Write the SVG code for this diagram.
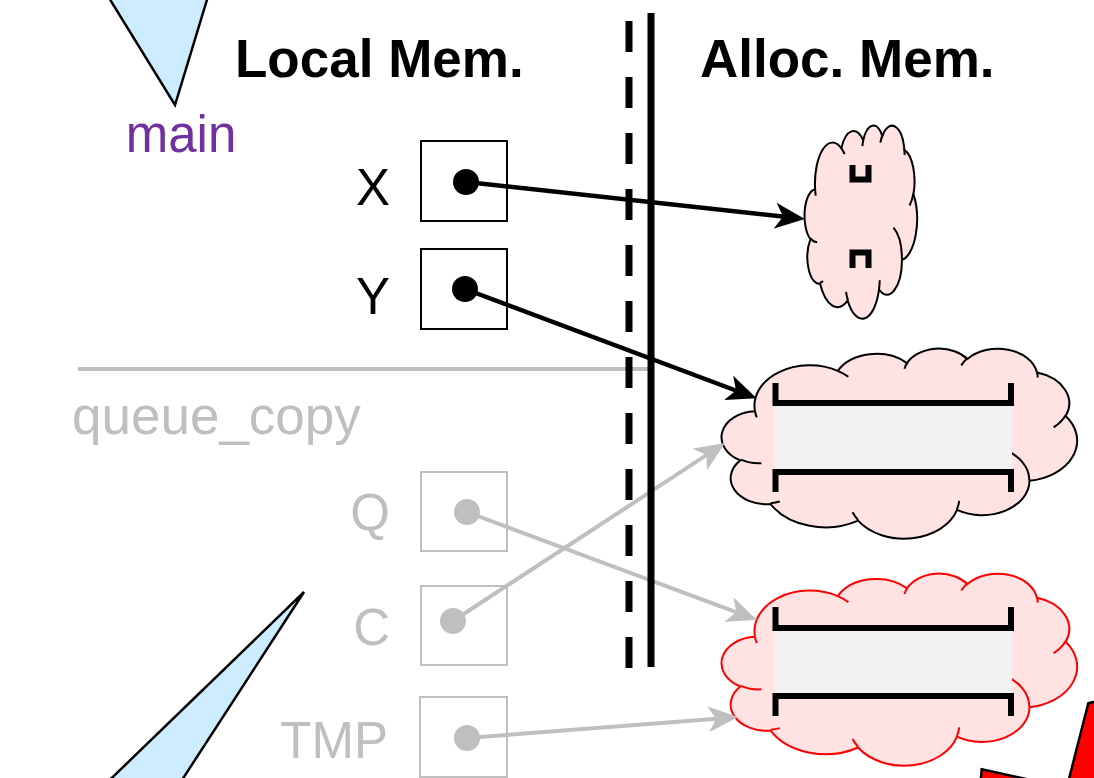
<svg xmlns="http://www.w3.org/2000/svg" width="1094" height="778" viewBox="0 0 1094 778">
<style>
.hdr{font-family:"Liberation Sans",Arial,sans-serif;font-weight:bold;font-size:53px;fill:#000}
.lbl{font-family:"Liberation Sans",Arial,sans-serif;font-size:51px;text-anchor:end}
.tb{fill:#000}
.tg{fill:#bfbfbf}
.boxb{fill:#fff;stroke:#000;stroke-width:2}
.boxg{fill:#fff;stroke:#bfbfbf;stroke-width:2}
.tri{fill:#cdecff;stroke:#000;stroke-width:2.5;stroke-linejoin:miter}
.ns{vector-effect:non-scaling-stroke}
.bracket{fill:none;stroke:#000;stroke-width:6;stroke-linejoin:miter;stroke-linecap:butt}
.qfill{fill:#f2f2f2}
.cb{stroke:#000;stroke-width:4.5;fill:none}
.cg{stroke:#bfbfbf;stroke-width:4;fill:none}
.redshape{fill:#ff0000;stroke:#000;stroke-width:2.5}
</style>
<defs>
<path id="cloudOuter" class="ns" d="M3900 14370 A6753 9190 0 0 1 14005 5202 A5333 7267 0 0 1 22456 3432 A4365 5945 0 0 1 29833 2480 A4857 6595 0 0 1 38319 5575 A5333 7273 0 0 1 41819 15459 A6775 9220 0 0 1 37405 30202 A5785 7867 0 0 1 28556 36812 A6752 9215 0 0 1 16480 39261 A7720 10543 0 0 1 5804 35468 A4360 5918 0 0 1 2112 25546 A4345 5945 0 0 1 3900 14370 Z"/>
<path id="cloudInner" class="ns" fill="none" d="M4693 26177 A4345 5945 0 0 1 2160 25380 M6928 34899 A4360 5918 0 0 1 5819 35281 M16478 39090 A6752 9215 0 0 1 15811 37350 M28827 34751 A6752 9215 0 0 1 28560 36660 M34129 22954 A5785 7867 0 0 1 37380 30089 M41798 15354 A5333 7273 0 0 1 40351 18030 M38324 5426 A4857 6595 0 0 1 38400 6689 M29078 3952 A4857 6595 0 0 1 29819 2341 M22141 4720 A4365 5945 0 0 1 22500 3330 M14000 5192 A6753 9190 0 0 1 15300 6540 M4127 15789 A6753 9190 0 0 1 3900 14370"/>
<marker id="ahB" markerUnits="userSpaceOnUse" markerWidth="30" markerHeight="26" viewBox="0 0 30 26" refX="12" refY="13" orient="auto"><path d="M0,0 L30,13 L0,26 L8,13 z" fill="#000"/></marker>
<marker id="ahG" markerUnits="userSpaceOnUse" markerWidth="30" markerHeight="26" viewBox="0 0 30 26" refX="12" refY="13" orient="auto"><path d="M0,0 L30,13 L0,26 L8,13 z" fill="#bfbfbf"/></marker>
</defs>

<g id="triangle-top"><polygon class="tri" points="98,-20 213,-20 175,105"/></g>
<g id="triangle-bottom"><polygon class="tri" points="304,592 89,800 169,800"/></g>
<g id="red-shapes">
<polygon class="redshape" points="1088.3,703.3 1110,698 1110,800 1063.6,800"/>
<polygon class="redshape" points="981.7,769.3 1040,782 1040,800 979.2,800"/>
</g>

<g id="label-main"><text x="181" y="152" font-family="Liberation Sans, Arial, sans-serif" font-size="51" text-anchor="middle" fill="#7030a0">main</text></g>
<g id="header-local"><text class="hdr" x="235" y="77">Local Mem.</text></g>
<g id="header-alloc"><text class="hdr" x="700" y="77">Alloc. Mem.</text></g>

<g id="frame-divider"><line x1="78" y1="369" x2="650" y2="369" stroke="#bfbfbf" stroke-width="4"/></g>
<g id="label-queue-copy"><text x="72" y="434" font-family="Liberation Sans, Arial, sans-serif" font-size="53" fill="#bfbfbf">queue_copy</text></g>

<g id="var-X"><text class="lbl tb" x="390" y="205">X</text><rect class="boxb" x="421" y="141" width="86" height="80"/></g>
<g id="var-Y"><text class="lbl tb" x="390" y="314">Y</text><rect class="boxb" x="421" y="249" width="86" height="80"/></g>
<g id="var-Q"><text class="lbl tg" x="390" y="530">Q</text><rect class="boxg" x="421" y="472" width="86" height="79"/></g>
<g id="var-C"><text class="lbl tg" x="390" y="645">C</text><rect class="boxg" x="421" y="586" width="86" height="79"/></g>
<g id="var-TMP"><text class="lbl tg" x="388" y="758">TMP</text><rect class="boxg" x="420" y="697" width="87" height="80"/></g>

<g id="cloud-small">
<use href="#cloudOuter" transform="translate(805,125) scale(0.0025926,0.0044676)" fill="#ffe2e2" stroke="#000" stroke-width="2"/>
<use href="#cloudInner" transform="translate(805,125) scale(0.0025926,0.0044676)" stroke="#000" stroke-width="2"/>
<path class="bracket" stroke-width="5" d="M852.5 165 V179.5 H868.5 V165"/>
<path class="bracket" stroke-width="5" d="M852.5 268 V252.5 H868.5 V268"/>
</g>

<g id="cloud-queue1">
<use href="#cloudOuter" transform="translate(723,348) scale(0.0081944,0.0043981)" fill="#ffe2e2" stroke="#000" stroke-width="2"/>
<use href="#cloudInner" transform="translate(723,348) scale(0.0081944,0.0043981)" stroke="#000" stroke-width="2"/>
<rect class="qfill" x="775" y="405" width="237" height="66"/>
<path class="bracket" d="M775.5 383 V403 H1011 V383"/>
<path class="bracket" d="M775.5 492 V472 H1011 V492"/>
</g>

<g id="cloud-queue2">
<use href="#cloudOuter" transform="translate(723,573) scale(0.0081944,0.0044444)" fill="#ffe2e2" stroke="#ff0000" stroke-width="2"/>
<use href="#cloudInner" transform="translate(723,573) scale(0.0081944,0.0044444)" stroke="#ff0000" stroke-width="2"/>
<rect class="qfill" x="775" y="631" width="237" height="63"/>
<path class="bracket" d="M775.5 607 V628 H1011 V607"/>
<path class="bracket" d="M775.5 716 V696 H1011 V716"/>
</g>

<g id="connectors">
<line class="cg" x1="467" y1="512" x2="740.1" y2="613.7" marker-end="url(#ahG)"/>
<line class="cg" x1="453" y1="621" x2="709.9" y2="452.9" marker-end="url(#ahG)"/>
<line class="cg" x1="467" y1="738" x2="720.1" y2="718.4" marker-end="url(#ahG)"/>
<line class="cb" x1="466" y1="182" x2="787.1" y2="217" marker-end="url(#ahB)"/>
<line class="cb" x1="465" y1="289" x2="739.8" y2="392" marker-end="url(#ahB)"/>
<circle cx="466" cy="182" r="13" fill="#000"/>
<circle cx="465" cy="289" r="13" fill="#000"/>
<circle cx="467" cy="512" r="13" fill="#bfbfbf"/>
<circle cx="453" cy="621" r="13" fill="#bfbfbf"/>
<circle cx="467" cy="738" r="13" fill="#bfbfbf"/>
</g>

<g id="memory-boundary">
<line x1="629" y1="21" x2="629" y2="668" stroke="#000" stroke-width="7" stroke-dasharray="31 25"/>
<line x1="651" y1="13" x2="651" y2="667" stroke="#000" stroke-width="7"/>
</g>
</svg>
